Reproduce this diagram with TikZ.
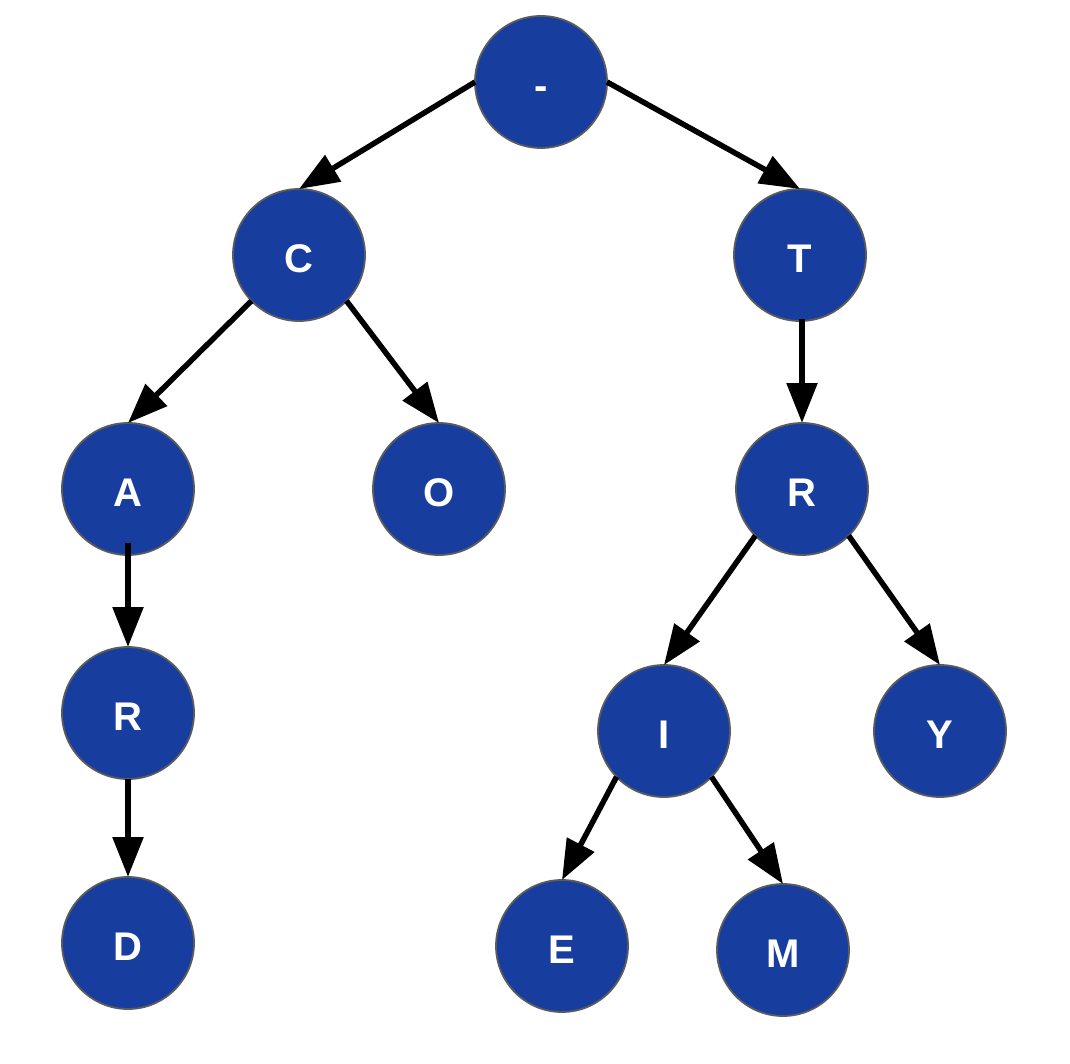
\documentclass[tikz,border=0pt]{standalone}
\usepackage{fontspec}
\setmainfont{Liberation Sans}
\usetikzlibrary{arrows.meta}
\definecolor{nodeblue}{HTML}{173D9F}
\definecolor{nodeedge}{HTML}{5C5C5C}
\begin{document}
\begin{tikzpicture}[x=1pt,y=-1pt,
  treenode/.style={circle,draw=nodeedge,line width=1.8pt,fill=nodeblue,
    minimum size=132pt,inner sep=0pt,outer sep=0pt,text=white,
    text height=36pt,text depth=1pt,
    font=\fontsize{40}{40}\selectfont\bfseries},
  link/.style={line width=5.5pt,draw=black,
    -{Triangle[length=40pt,width=30pt]}}]
\useasboundingbox (0,0) rectangle (1070,1064);

% nodes of the tree
\node[treenode] (root) at (541,82)  {-};
\node[treenode] (c)    at (299,255) {C};
\node[treenode] (t)    at (800,255) {T};
\node[treenode] (a)    at (128,489) {A};
\node[treenode] (o)    at (439,489) {O};
\node[treenode] (r2)   at (802,489) {R};
\node[treenode] (r1)   at (128,713) {R};
\node[treenode] (i)    at (664,731) {I};
\node[treenode] (y)    at (940,731) {Y};
\node[treenode] (d)    at (128,943) {D};
\node[treenode] (e)    at (562,946) {E};
\node[treenode] (m)    at (783,950) {M};

% parent-to-child links
\draw[link] (root.west) -- (c.north);
\draw[link] (root.east) -- (t.north);
\draw[link] (c.224) -- (a.north);
\draw[link] (c.316) -- (o.north);
\draw[link,shorten <=-2pt] (r2.north |- t.south) -- (r2.north);
\draw[link,shorten <=-12pt] (a.south) -- (r1.north);
\draw[link] (r1.south) -- (d.north);
\draw[link] (r2.225) -- (i.north);
\draw[link] (r2.315) -- (y.north);
\draw[link] (i.224) -- (e.north);
\draw[link] (i.316) -- (m.north);
\end{tikzpicture}
\end{document}
